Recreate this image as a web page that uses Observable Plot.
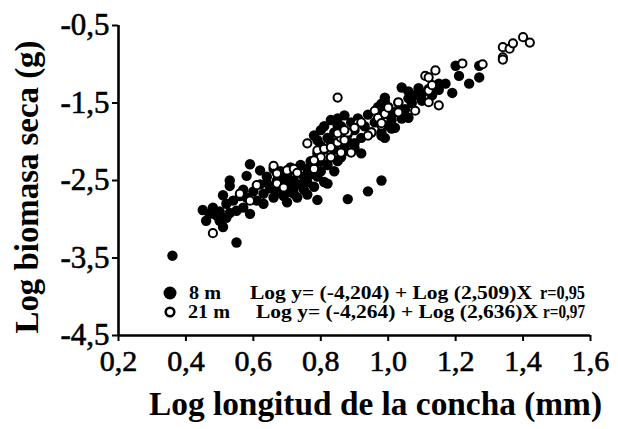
<!DOCTYPE html>
<html>
<head>
<meta charset="utf-8">
<script src="https://cdn.jsdelivr.net/npm/d3@7"></script>
<script src="https://cdn.jsdelivr.net/npm/@observablehq/plot@0.6"></script>
<style>
  html, body { margin: 0; padding: 0; background: white; }
  #wrap { position: relative; width: 618px; height: 429px; }
  #overlay { position: absolute; left: 0; top: 0; pointer-events: none; }
  text { font-family: 'Liberation Serif', 'Times New Roman', serif; }
  #wrap svg [aria-label="x-axis tick label"] text,
  #wrap svg [aria-label="y-axis tick label"] text { stroke: black; stroke-width: 0.6px; }
</style>
</head>
<body>
<div id="wrap"></div>
<script>
// Log longitud (x), Log biomasa seca (y)
const depth8 = [
  [0.36,-3.47],
  [0.45,-2.88],[0.46,-3.02],[0.47,-2.93],[0.48,-2.85],[0.49,-2.95],[0.50,-3.02],[0.50,-2.90],[0.51,-3.10],
  [0.52,-2.98],[0.51,-2.69],[0.52,-2.80],[0.53,-2.50],[0.53,-2.57],[0.53,-2.92],[0.54,-2.76],[0.55,-2.89],
  [0.55,-3.30],[0.56,-2.70],[0.57,-2.85],[0.57,-2.62],[0.58,-2.44],[0.58,-2.72],[0.59,-2.29],[0.59,-2.93],
  [0.60,-2.64],[0.61,-2.76],[0.62,-2.37],[0.62,-2.55],[0.63,-2.67],[0.63,-2.80],[0.64,-2.53],
  [0.64,-2.45],[0.65,-2.60],[0.66,-2.72],[0.66,-2.35],[0.67,-2.50],[0.67,-2.65],[0.68,-2.38],[0.68,-2.58],
  [0.69,-2.70],[0.69,-2.48],[0.70,-2.55],[0.70,-2.42],[0.70,-2.78],[0.71,-2.65],[0.71,-2.33],[0.72,-2.50],
  [0.72,-2.60],[0.72,-2.67],[0.73,-2.40],[0.73,-2.72],[0.74,-2.55],[0.74,-2.30],[0.75,-2.45],[0.75,-2.62],
  [0.76,-2.35],[0.76,-2.52],[0.76,-2.68],[0.77,-2.25],[0.77,-2.42],[0.78,-2.58],[0.78,-2.32],[0.79,-2.45],
  [0.79,-2.15],[0.79,-2.75],[0.80,-2.38],[0.80,-2.25],[0.81,-2.52],[0.81,-2.10],[0.82,-2.30],[0.82,-2.54],
  [0.83,-2.20],[0.84,-2.38],[0.85,-2.25],[0.88,-2.74],[0.94,-2.64],[0.98,-2.50],[0.92,-2.15],[0.90,-2.08],
  [0.87,-2.12],
  [0.78,-1.92],[0.79,-1.98],[0.80,-1.85],[0.80,-2.05],[0.81,-1.80],[0.82,-1.95],[0.83,-1.72],[0.83,-2.00],
  [0.84,-1.88],[0.84,-2.10],[0.85,-1.70],[0.85,-1.79],[0.86,-1.80],[0.86,-2.20],[0.87,-1.66],[0.87,-2.05],
  [0.88,-1.90],[0.88,-2.00],[0.89,-1.75],[0.90,-1.85],[0.90,-2.02],[0.91,-1.70],[0.92,-1.95],[0.93,-1.80],
  [0.94,-1.65],[0.95,-1.88],[0.96,-1.75],[0.97,-1.55],[0.98,-1.65],[0.98,-1.88],[0.98,-1.92],[0.99,-1.48],
  [0.98,-1.51],[0.99,-1.64],[1.00,-1.60],[1.02,-1.82],
  [0.99,-1.43],[0.99,-1.79],[1.01,-1.83],[0.99,-1.95],[1.04,-1.30],[1.06,-1.44],[1.10,-1.47],[1.06,-1.69],
  [1.09,-1.31],[1.15,-1.25],[1.17,-1.25],[1.19,-1.37],[1.20,-1.02],[1.21,-1.15],[1.24,-1.25],[1.27,-1.17],
  [1.27,-1.02],[1.00,-1.55],[1.02,-1.62],[1.03,-1.50],[1.05,-1.58],[1.07,-1.50],[1.08,-1.40],[1.10,-1.38],
  [1.12,-1.32],[1.04,-1.70],[0.97,-1.70],[1.01,-1.72],[1.13,-1.40],[1.15,-1.33],[1.06,-1.35]
];
const depth21 = [
  [0.48,-3.18],[0.56,-2.67],[0.59,-2.76],[0.61,-2.56],[0.66,-2.31],[0.67,-2.41],[0.67,-2.54],[0.69,-2.59],
  [0.70,-2.37],[0.72,-2.35],[0.73,-2.40],[0.78,-2.35],[0.76,-2.02],[0.79,-2.11],[0.81,-2.09],[0.83,-2.07],
  [0.85,-2.01],[0.86,-1.95],[0.87,-1.98],[0.85,-1.89],[0.88,-1.88],[0.86,-2.14],[0.89,-2.14],[0.83,-2.20],
  [0.80,-2.20],[0.78,-2.24],[0.91,-1.76],[0.92,-1.75],[0.96,-1.60],[0.97,-1.69],[0.98,-1.79],[0.95,-1.88],
  [0.87,-1.85],[0.90,-1.82],[0.94,-1.92],[0.85,-1.43],
  [0.99,-1.64],[1.00,-1.56],[1.03,-1.49],[1.03,-1.62],[1.08,-1.60],[1.12,-1.49],[1.15,-1.53],[1.12,-1.34],
  [1.13,-1.27],[1.11,-1.15],[1.14,-1.08],[1.12,-1.17],[0.98,-1.76],
  [1.22,-0.99],[1.28,-1.00],[1.34,-0.91],[1.34,-0.94],[1.34,-0.78],[1.36,-0.80],[1.37,-0.73],[1.40,-0.65],
  [1.42,-0.72]
];
const xTicks = [0.2, 0.4, 0.6, 0.8, 1.0, 1.2, 1.4, 1.6];
const yTicks = [-4.5, -3.5, -2.5, -1.5, -0.5];
const xTitle = "Log longitud de la concha (mm)";
const yTitle = "Log biomasa seca (g)";
const legendRows = [
  {name: "8 m", eq: "Log y= (-4,204) + Log (2,509)X", r: "r=0,95"},
  {name: "21 m", eq: "Log y= (-4,264) + Log (2,636)X", r: "r=0,97"}
];

const fmt = d => d.toFixed(1).replace(".", ",");

const chart = Plot.plot({
  width: 618, height: 429,
  marginLeft: 118, marginRight: 28, marginTop: 25, marginBottom: 94,
  style: {fontFamily: "'Liberation Serif', serif", color: "black", background: "white", overflow: "visible"},
  x: {domain: [0.2, 1.6]},
  y: {domain: [-4.5, -0.5]},
  marks: [
    Plot.axisX({ticks: xTicks, tickFormat: fmt, tickSize: 6, tickPadding: 8, fontSize: 30, strokeWidth: 2, label: null}),
    Plot.axisY({ticks: yTicks, tickFormat: fmt, tickSize: 6, tickPadding: 3, fontSize: 31, strokeWidth: 2, label: null}),
    Plot.ruleX([0.2], {strokeWidth: 2.6}),
    Plot.ruleY([-4.5], {strokeWidth: 2.6}),
    Plot.dot(depth8, {x: d => d[0], y: d => d[1], r: 5.2, fill: "black", stroke: "none"}),
    Plot.dot(depth21, {x: d => d[0], y: d => d[1], r: 4.1, fill: "white", stroke: "black", strokeWidth: 2})
  ]
});
const wrap = document.getElementById("wrap");
wrap.appendChild(chart);

const NS = "http://www.w3.org/2000/svg";
const ov = document.createElementNS(NS, "svg");
ov.setAttribute("id", "overlay");
ov.setAttribute("width", 618);
ov.setAttribute("height", 429);
wrap.appendChild(ov);

function addText(str, attrs) {
  const t = document.createElementNS(NS, "text");
  for (const k in attrs) t.setAttribute(k, attrs[k]);
  t.textContent = str;
  ov.appendChild(t);
  return t;
}
addText(yTitle, {transform: "translate(38,187) rotate(-90)", "text-anchor": "middle", "font-size": 34, "font-weight": "bold",
  textLength: 293, lengthAdjust: "spacingAndGlyphs"});
addText(xTitle, {x: 149, y: 415, "font-size": 33, "font-weight": "bold",
  textLength: 453, lengthAdjust: "spacingAndGlyphs"});

// legend
const rowY = [299, 318];
const nameX = [[189, 32], [188, 42]];
const eqX = [[250, 282], [256, 282]];
const rX = [[540, 45], [543, 42]];
legendRows.forEach((row, i) => {
  const c = document.createElementNS(NS, "circle");
  c.setAttribute("cx", 170);
  c.setAttribute("cy", rowY[i] - 6);
  if (i === 0) { c.setAttribute("r", 6.5); c.setAttribute("fill", "black"); }
  else { c.setAttribute("r", 4.3); c.setAttribute("fill", "white"); c.setAttribute("stroke", "black"); c.setAttribute("stroke-width", 2.6); }
  ov.appendChild(c);
  addText(row.name, {x: nameX[i][0], y: rowY[i], "font-size": 18, "font-weight": "bold", textLength: nameX[i][1], lengthAdjust: "spacingAndGlyphs"});
  addText(row.eq, {x: eqX[i][0], y: rowY[i], "font-size": 18, "font-weight": "bold", textLength: eqX[i][1], lengthAdjust: "spacingAndGlyphs"});
  addText(row.r, {x: rX[i][0], y: rowY[i], "font-size": 18, "font-weight": "bold", textLength: rX[i][1], lengthAdjust: "spacingAndGlyphs"});
});
</script>
</body>
</html>
